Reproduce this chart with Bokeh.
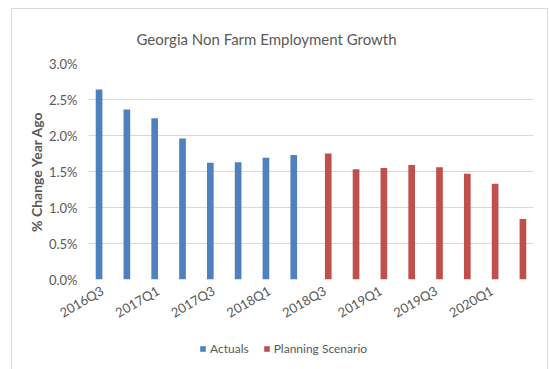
import math
from bokeh.plotting import figure
from bokeh.layouts import column
from bokeh.models import (ColumnDataSource, Range1d, FixedTicker, PrintfTickFormatter,
                          Legend, LegendItem)
from bokeh.transform import dodge
from bokeh.embed import file_html
from bokeh.resources import INLINE

quarters = ["2016Q3", "2016Q4", "2017Q1", "2017Q2", "2017Q3", "2017Q4", "2018Q1", "2018Q2",
            "2018Q3", "2018Q4", "2019Q1", "2019Q2", "2019Q3", "2019Q4", "2020Q1", "2020Q2"]
actual_quarters = quarters[:8]
actuals = [2.64, 2.36, 2.24, 1.96, 1.62, 1.63, 1.69, 1.73]
planning_quarters = quarters[8:]
planning = [1.75, 1.53, 1.55, 1.59, 1.56, 1.47, 1.33, 0.84]
y_ticks = [0.0, 0.5, 1.0, 1.5, 2.0, 2.5, 3.0]

TEXT = "#595959"
FONT = "Lato"
BORDER = "#d9d9d9"
BLUE, RED = "#4f81bd", "#c0504d"

W, H = 549, 369
H_MAIN = 341
FL, FR, FT, FB = 88, 533, 63, 279

g = f"linear-gradient({BORDER},{BORDER})"
bg = (f"{g} 11px 8px/537px 1px no-repeat, {g} 11px 8px/1px 400px no-repeat, "
      f"{g} 547px 8px/1px 400px no-repeat, white")

p = figure(width=W, height=H_MAIN, output_backend="svg", toolbar_location=None,
           x_range=Range1d(-0.5, len(quarters) - 0.5), y_range=Range1d(0, 3.0),
           min_border_left=FL, min_border_right=W - FR, min_border_top=FT,
           min_border_bottom=H_MAIN - FB)
p.outline_line_color = None
p.background_fill_color = "white"
p.border_fill_alpha = 0

idx = {q: i for i, q in enumerate(quarters)}
src_a = ColumnDataSource(dict(x=[idx[q] for q in actual_quarters], q=actual_quarters, v=actuals))
src_p = ColumnDataSource(dict(x=[idx[q] for q in planning_quarters], q=planning_quarters, v=planning))

p.vbar(x=dodge("x", -0.12, range=p.x_range), top="v", width=0.24, source=src_a,
       fill_color=BLUE, line_color=None)
p.vbar(x=dodge("x", 0.12, range=p.x_range), top="v", width=0.24, source=src_p,
       fill_color=RED, line_color=None)

# title
p.title.text = "Georgia Non Farm Employment Growth"
p.title.text_font = FONT
p.title.text_font_size = "15px"
p.title.text_font_style = "normal"
p.title.text_color = TEXT
p.title.align = "left"
p.title.offset = 48
p.title.standoff = 31

# axes
p.xaxis.ticker = FixedTicker(ticks=list(range(0, len(quarters), 2)))
p.xaxis.major_label_overrides = {i: q for i, q in enumerate(quarters)}
p.xaxis.major_label_orientation = math.pi / 6
p.xaxis.axis_line_color = None
p.xaxis.major_tick_line_color = None
p.xaxis.major_tick_out = 0
p.xaxis.major_tick_in = 0
p.xaxis.minor_tick_line_color = None
p.xaxis.major_label_standoff = 10
p.xaxis.major_label_text_font = FONT
p.xaxis.major_label_text_font_size = "13px"
p.xaxis.major_label_text_color = TEXT

p.yaxis.ticker = FixedTicker(ticks=y_ticks)
p.yaxis.formatter = PrintfTickFormatter(format="%.1f%%")
p.yaxis.axis_line_color = None
p.yaxis.major_tick_line_color = None
p.yaxis.major_tick_out = 0
p.yaxis.major_tick_in = 0
p.yaxis.minor_tick_line_color = None
p.yaxis.major_label_standoff = 11
p.yaxis.major_label_text_font = FONT
p.yaxis.major_label_text_font_size = "13px"
p.yaxis.major_label_text_color = TEXT
p.yaxis.axis_label = "% Change Year Ago"
p.yaxis.axis_label_text_font = FONT
p.yaxis.axis_label_text_font_size = "14px"
p.yaxis.axis_label_text_font_style = "bold"
p.yaxis.axis_label_text_color = TEXT
p.yaxis.axis_label_standoff = 1

p.xgrid.grid_line_color = None
p.ygrid.grid_line_color = BORDER
p.ygrid.grid_line_width = 1

# legend strip (same series, swatches only)
lg = figure(width=W, height=H - H_MAIN, output_backend="svg", toolbar_location=None,
            x_range=Range1d(-0.5, len(quarters) - 0.5), y_range=Range1d(10, 11),
            x_axis_location=None, y_axis_location=None, min_border=0)
lg.outline_line_color = None
lg.background_fill_alpha = 0
lg.border_fill_alpha = 0
lg.grid.grid_line_color = None
lg.title.visible = False
la = lg.vbar(x="x", top="v", width=0.24, source=src_a, fill_color=BLUE, line_color=None)
lp = lg.vbar(x="x", top="v", width=0.24, source=src_p, fill_color=RED, line_color=None)
legend = Legend(items=[LegendItem(label="Actuals", renderers=[la]),
                       LegendItem(label="Planning Scenario", renderers=[lp])],
                location=(199 - FL, H - 356), orientation="horizontal",
                glyph_width=7, glyph_height=7, label_height=12, label_standoff=4,
                spacing=14, padding=0, margin=0, border_line_color=None,
                background_fill_alpha=0, label_text_font=FONT,
                label_text_font_size="12px", label_text_color=TEXT)
lg.add_layout(legend, "center")

layout = column(p, lg, spacing=0, styles={"background": bg})
open("out.html", "w").write(file_html(layout, INLINE))
